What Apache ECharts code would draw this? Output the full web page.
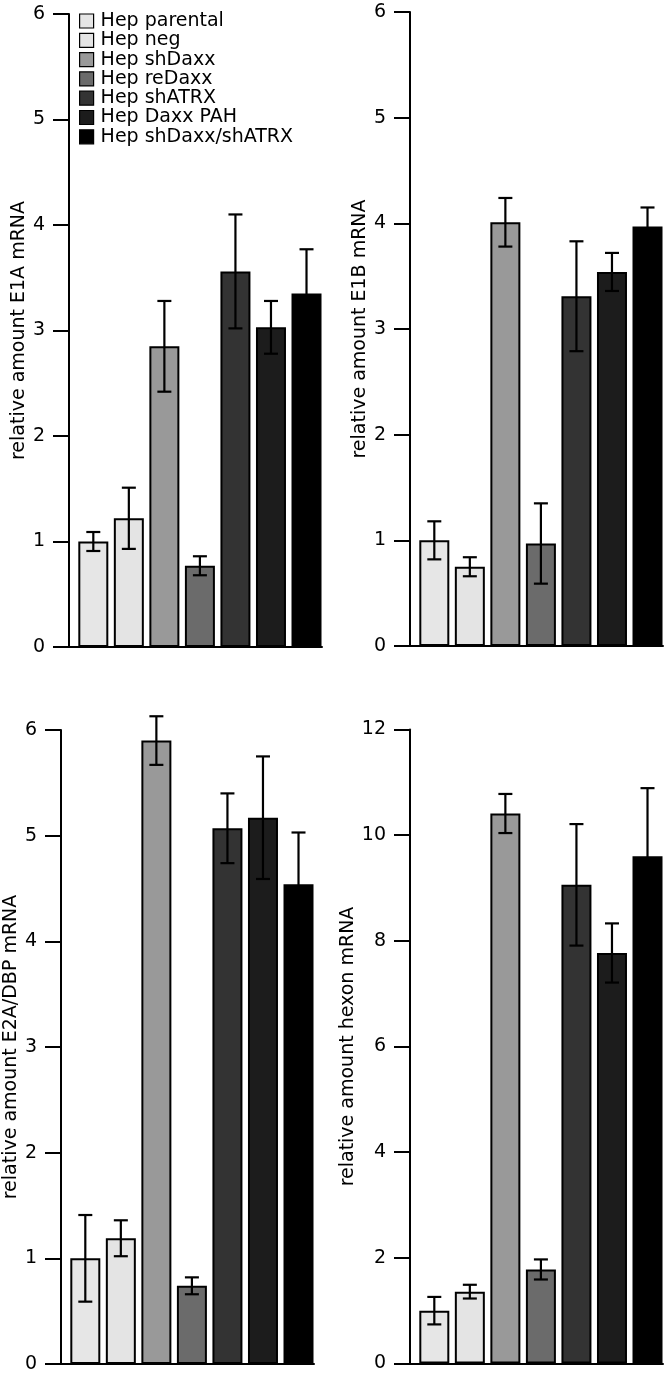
<!DOCTYPE html>
<html>
<head>
<meta charset="utf-8">
<script src="https://cdn.jsdelivr.net/npm/echarts@6/dist/echarts.min.js"></script>
<style>
html,body{margin:0;padding:0;background:#fff;}
#chart{width:666px;height:1375px;}
</style>
</head>
<body>
<div id="chart"></div>
<script>
// ---- data ----
const categories = ['Hep parental','Hep neg','Hep shDaxx','Hep reDaxx','Hep shATRX','Hep Daxx PAH','Hep shDaxx/shATRX'];
const colors = ['#e6e6e6','#e4e4e4','#999999','#6b6b6b','#333333','#1c1c1c','#000000'];

const titles = ['relative amount E1A mRNA','relative amount E1B mRNA','relative amount E2A/DBP mRNA','relative amount hexon mRNA'];

const e1aMean = [1.00, 1.22, 2.85, 0.77, 3.56, 3.03, 3.35];
const e1aErr  = [0.09, 0.29, 0.43, 0.09, 0.54, 0.25, 0.42];
const e1bMean = [1.00, 0.75, 4.01, 0.97, 3.31, 3.54, 3.97];
const e1bErr  = [0.18, 0.09, 0.23, 0.38, 0.52, 0.18, 0.18];
const e2aMean = [1.00, 1.19, 5.90, 0.74, 5.07, 5.17, 4.54];
const e2aErr  = [0.41, 0.17, 0.23, 0.08, 0.33, 0.58, 0.49];
const hexMean = [1.00, 1.36, 10.41, 1.78, 9.06, 7.77, 9.60];
const hexErr  = [0.26, 0.13, 0.37, 0.19, 1.15, 0.56, 1.29];

const yMax = [6, 6, 6, 12];
const yInterval = [1, 1, 1, 2];

// ---- layout ----
const means = [e1aMean, e1bMean, e2aMean, hexMean];
const errs = [e1aErr, e1bErr, e2aErr, hexErr];
const grids = [
  {left: 69, top: 14, width: 253, height: 633},
  {left: 410, top: 12, width: 253, height: 634},
  {left: 61, top: 730, width: 253, height: 634},
  {left: 410, top: 729.5, width: 253, height: 634}
];
const FONT = 'DejaVu Sans';

const xAxes = [], yAxes = [], series = [];
for (let p = 0; p < 4; p++) {
  xAxes.push({
    gridIndex: p, type: 'value', min: -0.684, max: 6.436,
    axisLine: {show: true, onZero: false, lineStyle: {color: '#000', width: 2}},
    axisTick: {show: false}, axisLabel: {show: false}, splitLine: {show: false}
  });
  yAxes.push({
    gridIndex: p, type: 'value', min: 0, max: yMax[p], interval: yInterval[p],
    position: 'left',
    name: titles[p], nameLocation: 'middle', nameGap: 36, nameRotate: 90,
    nameTextStyle: {fontFamily: FONT, fontSize: 19, color: '#000'},
    axisLine: {show: true, onZero: false, lineStyle: {color: '#000', width: 2}},
    axisTick: {show: true, length: 16, lineStyle: {color: '#000', width: 2}},
    axisLabel: {margin: 24, fontFamily: FONT, fontSize: 19, color: '#000'},
    splitLine: {show: false}
  });
  for (let i = 0; i < categories.length; i++) {
    series.push({
      type: 'bar', name: categories[i], xAxisIndex: p, yAxisIndex: p,
      barWidth: 30, barGap: '-100%',
      itemStyle: {color: colors[i], borderColor: '#000', borderWidth: 2},
      emphasis: {disabled: true},
      data: [[i, means[p][i]]],
      z: 2
    });
  }
  const errData = means[p].map((m, i) => [i, m - errs[p][i], m + errs[p][i]]);
  series.push({
    type: 'custom', xAxisIndex: p, yAxisIndex: p, z: 5,
    data: errData,
    renderItem: function (params, api) {
      const x = api.value(0);
      const lo = api.coord([x, api.value(1)]);
      const hi = api.coord([x, api.value(2)]);
      const hw = 7;
      const st = {stroke: '#000', lineWidth: 2.2};
      return {type: 'group', children: [
        {type: 'line', shape: {x1: lo[0], y1: lo[1], x2: hi[0], y2: hi[1]}, style: st},
        {type: 'line', shape: {x1: hi[0]-hw, y1: hi[1], x2: hi[0]+hw, y2: hi[1]}, style: st},
        {type: 'line', shape: {x1: lo[0]-hw, y1: lo[1], x2: lo[0]+hw, y2: lo[1]}, style: st}
      ]};
    }
  });
}

const chart = echarts.init(document.getElementById('chart'), null, {renderer: 'canvas'});
chart.setOption({
  animation: false,
  backgroundColor: '#fff',
  grid: grids,
  xAxis: xAxes,
  yAxis: yAxes,
  legend: {
    data: categories,
    orient: 'vertical', left: 79, top: 11.5, padding: 0,
    itemWidth: 14, itemHeight: 14, itemGap: 0.3,
    icon: 'rect',
    itemStyle: {borderColor: '#000', borderWidth: 1.2},
    textStyle: {fontFamily: FONT, fontSize: 19, lineHeight: 19, color: '#000', padding: [0,0,0,2]},
    selectedMode: false
  },
  series: series
});
</script>
</body>
</html>
